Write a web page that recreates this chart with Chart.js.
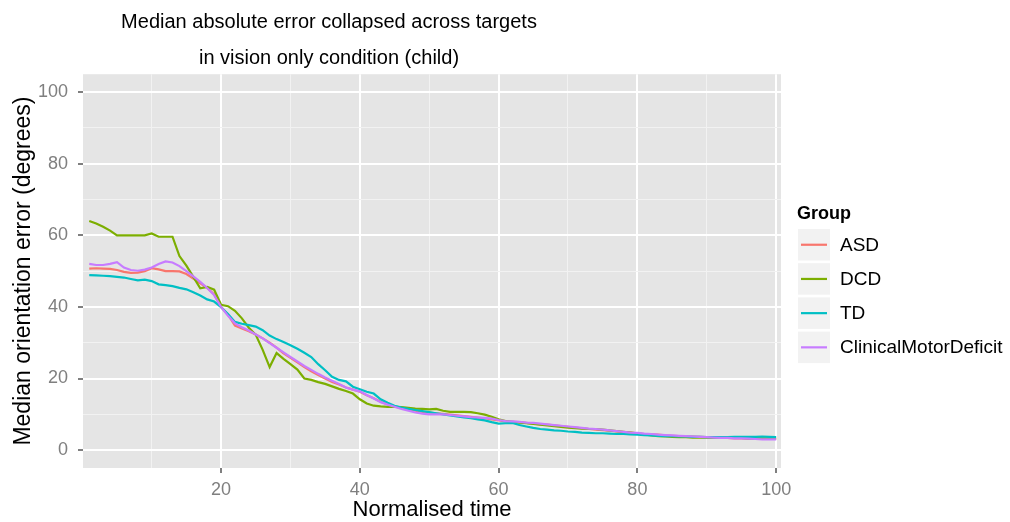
<!DOCTYPE html>
<html>
<head>
<meta charset="utf-8">
<script src="https://cdn.jsdelivr.net/npm/chart.js@4.4.1/dist/chart.umd.min.js"></script>
<style>
  html, body { margin: 0; padding: 0; background: #ffffff; }
  #wrap { width: 1010px; height: 522px; position: relative; }
</style>
</head>
<body>
<div id="wrap"><canvas id="errorChart"></canvas></div>
<script>
// Normalised time steps 1..100
const times = Array.from({ length: 100 }, (_, i) => i + 1);

const asd = [
  50.7, 50.8, 50.7, 50.6, 50.3, 49.8, 49.5, 49.6, 50.0, 50.8,
  50.5, 50.0, 50.0, 49.9, 49.2, 47.9, 46.6, 45.3, 43.5, 40.0,
  37.8, 34.8, 34.0, 33.2, 32.3, 31.2, 30.0, 28.6, 27.0, 25.8,
  24.5, 23.2, 22.0, 21.0, 20.0, 19.0, 18.3, 17.5, 16.9, 16.3,
  15.3, 14.5, 13.5, 12.8, 12.2, 11.8, 11.5, 11.0, 10.7, 10.5,
  10.3, 10.1, 9.9, 9.7, 9.5, 9.3, 9.1, 8.9, 8.6, 8.3,
  8.0, 7.9, 7.8, 7.6, 7.4, 7.2, 7.1, 6.9, 6.7, 6.5,
  6.3, 6.1, 5.9, 5.7, 5.6, 5.4, 5.2, 5.0, 4.9, 4.7,
  4.5, 4.4, 4.3, 4.1, 4.0, 3.9, 3.8, 3.8, 3.7, 3.6,
  3.5, 3.5, 3.4, 3.3, 3.3, 3.2, 3.2, 3.1, 3.1, 3.1
];
const dcd = [
  64.0, 63.3, 62.4, 61.3, 60.0, 60.0, 60.0, 60.0, 60.0, 60.5,
  59.6, 59.6, 59.6, 54.2, 51.5, 48.4, 45.2, 45.6, 44.8, 40.6,
  40.2, 38.9, 36.8, 34.2, 32.2, 28.0, 23.2, 27.1, 25.5, 24.0,
  22.5, 20.0, 19.6, 19.0, 18.5, 17.8, 17.1, 16.5, 15.8, 14.2,
  13.0, 12.4, 12.2, 12.1, 12.1, 12.0, 11.8, 11.6, 11.5, 11.4,
  11.5, 11.0, 10.7, 10.7, 10.7, 10.6, 10.3, 9.9, 9.3, 8.6,
  8.1, 7.9, 7.7, 7.5, 7.3, 7.1, 6.9, 6.7, 6.5, 6.3,
  6.1, 6.0, 5.9, 5.9, 5.7, 5.5, 5.3, 5.1, 4.9, 4.7,
  4.4, 4.1, 3.9, 3.8, 3.7, 3.6, 3.6, 3.5, 3.5, 3.5,
  3.4, 3.4, 3.4, 3.4, 3.4, 3.3, 3.3, 3.3, 3.3, 3.3
];
const td = [
  48.9, 48.8, 48.7, 48.6, 48.4, 48.2, 47.8, 47.4, 47.6, 47.2,
  46.3, 46.1, 45.8, 45.3, 44.9, 44.1, 43.2, 42.1, 41.5, 39.9,
  38.0, 35.8, 35.3, 34.9, 34.5, 33.5, 32.0, 31.0, 30.2, 29.3,
  28.3, 27.2, 26.0, 24.0, 22.3, 20.5, 19.6, 19.2, 17.7, 17.0,
  16.3, 15.8, 14.2, 13.2, 12.4, 11.9, 11.5, 11.2, 10.9, 10.6,
  10.3, 10.0, 9.7, 9.4, 9.1, 8.9, 8.6, 8.3, 7.8, 7.4,
  7.5, 7.6, 7.0, 6.6, 6.2, 5.9, 5.7, 5.5, 5.4, 5.2,
  5.1, 4.9, 4.8, 4.7, 4.7, 4.6, 4.5, 4.5, 4.4, 4.3,
  4.2, 4.1, 4.0, 3.9, 3.9, 3.8, 3.8, 3.7, 3.7, 3.6,
  3.6, 3.6, 3.6, 3.7, 3.7, 3.7, 3.7, 3.8, 3.7, 3.6
];
const clinicalMotorDeficit = [
  52.0, 51.7, 51.7, 52.0, 52.5, 51.0, 50.3, 50.1, 50.4, 51.0,
  52.0, 52.7, 52.4, 51.4, 50.0, 48.5, 47.0, 45.3, 43.3, 40.0,
  37.5, 35.4, 34.3, 33.4, 32.3, 31.2, 29.9, 28.6, 27.3, 26.0,
  24.8, 23.5, 22.4, 21.3, 20.3, 19.4, 18.5, 17.5, 16.9, 16.4,
  15.4, 14.4, 13.4, 12.7, 12.1, 11.5, 11.0, 10.5, 10.2, 10.0,
  10.0, 10.0, 9.8, 9.6, 9.4, 9.2, 9.1, 9.0, 8.8, 8.4,
  8.1, 8.0, 7.9, 7.7, 7.6, 7.4, 7.2, 7.0, 6.8, 6.6,
  6.4, 6.2, 6.0, 5.9, 5.7, 5.5, 5.3, 5.1, 4.9, 4.8,
  4.6, 4.5, 4.3, 4.2, 4.1, 4.0, 3.9, 3.8, 3.7, 3.6,
  3.5, 3.4, 3.4, 3.3, 3.3, 3.2, 3.1, 3.0, 3.0, 3.0
];

const groups = ['ASD', 'DCD', 'TD', 'ClinicalMotorDeficit'];
const groupColors = ['#F8766D', '#7CAE00', '#00BFC4', '#C77CFF'];

// ticks: every 10 drawn as grid, every 20 labelled (ggplot major/minor)
const xBreaks = [10, 20, 30, 40, 50, 60, 70, 80, 90, 100];
const xMajor = [20, 40, 60, 80, 100];
const yBreaks = [0, 10, 20, 30, 40, 50, 60, 70, 80, 90, 100];
const yMajor = [0, 20, 40, 60, 80, 100];

const chartTitle = ['Median absolute error collapsed across targets', 'in vision only condition (child)'];
const xTitle = 'Normalised time';
const yTitle = 'Median orientation error (degrees)';
const legendTitle = 'Group';

const FONT = '"Liberation Sans", Arial, Helvetica, sans-serif';

// grey panel behind the plot
const panelBg = {
    id: 'panelBg',
    beforeDraw(chart) {
        const { ctx, chartArea: a } = chart;
        ctx.save();
        ctx.fillStyle = '#E5E5E5';
        ctx.fillRect(a.left, a.top, a.right - a.left, a.bottom - a.top);
        ctx.restore();
    }
};

// the original title sits a bit left of the panel centre
const titleShift = {
    id: 'titleShift',
    afterLayout(chart) {
        const t = chart.titleBlock;
        if (!t) return;
        t.left = 0;
        t.right = 658;
        t.width = 658;
    }
};

// ggplot style legend with grey key boxes
const groupLegend = {
    id: 'groupLegend',
    afterDraw(chart) {
        const ctx = chart.ctx;
        const x0 = chart.chartArea.right + 17;
        ctx.save();
        ctx.textBaseline = 'middle';
        ctx.textAlign = 'left';
        ctx.fillStyle = '#000000';
        ctx.font = 'bold 18px ' + FONT;
        ctx.fillText(legendTitle, x0 - 1, 214);
        chart.data.datasets.forEach((ds, i) => {
            const top = 229 + i * 34.2;
            ctx.fillStyle = '#F2F2F2';
            ctx.fillRect(x0, top, 32, 31.5);
            ctx.strokeStyle = ds.borderColor;
            ctx.lineWidth = 2.2;
            ctx.beginPath();
            ctx.moveTo(x0 + 3, top + 15.75);
            ctx.lineTo(x0 + 29, top + 15.75);
            ctx.stroke();
            ctx.fillStyle = '#000000';
            ctx.font = '19px ' + FONT;
            ctx.fillText(ds.label, x0 + 42, top + 16.5);
        });
        ctx.restore();
    }
};

function isMajor(ctx, majors) {
    return ctx.tick && majors.includes(ctx.tick.value);
}

const series = [asd, dcd, td, clinicalMotorDeficit];

const ctx = document.getElementById('errorChart').getContext('2d');
const chart = new Chart(ctx, {
    type: 'line',
    data: {
        datasets: series.map((vals, i) => ({
            label: groups[i],
            data: times.map((t, j) => ({ x: t, y: vals[j] })),
            borderColor: groupColors[i],
            backgroundColor: groupColors[i],
            borderWidth: 2.2,
            pointRadius: 0,
            tension: 0,
            order: series.length - i // later groups drawn on top
        }))
    },
    options: {
        responsive: true,
        maintainAspectRatio: false,
        animation: false,
        layout: {
            padding: { left: 0, right: 229, top: 0, bottom: 0 }
        },
        plugins: {
            legend: { display: false },
            tooltip: { enabled: false },
            title: {
                display: true,
                text: chartTitle,
                fullSize: false,
                color: '#000000',
                font: { family: FONT, size: 20, weight: 'normal', lineHeight: 1.83 },
                padding: { top: 4, bottom: -3 }
            }
        },
        scales: {
            x: {
                type: 'linear',
                min: 0.1,
                max: 100.7,
                afterBuildTicks: (scale) => {
                    scale.ticks = xBreaks.map(v => ({ value: v }));
                },
                afterFit: (scale) => { scale.height = 54; },
                border: { display: false },
                grid: {
                    color: (c) => isMajor(c, xMajor) ? '#FFFFFF' : '#F2F2F2',
                    lineWidth: (c) => isMajor(c, xMajor) ? 2 : 1,
                    tickColor: (c) => isMajor(c, xMajor) ? '#7F7F7F' : 'rgba(0,0,0,0)',
                    tickLength: 5
                },
                ticks: {
                    autoSkip: false,
                    maxRotation: 0,
                    padding: 6,
                    color: '#7F7F7F',
                    font: { family: FONT, size: 18 },
                    callback: (v) => xMajor.includes(v) ? String(v) : ''
                },
                title: {
                    display: true,
                    text: xTitle,
                    color: '#000000',
                    font: { family: FONT, size: 22, lineHeight: 1 },
                    padding: { top: 0, bottom: 1 }
                }
            },
            y: {
                min: -5,
                max: 105,
                afterBuildTicks: (scale) => {
                    scale.ticks = yBreaks.map(v => ({ value: v }));
                },
                afterFit: (scale) => { scale.width = 83; },
                border: { display: false },
                grid: {
                    color: (c) => isMajor(c, yMajor) ? '#FFFFFF' : '#F2F2F2',
                    lineWidth: (c) => isMajor(c, yMajor) ? 2 : 1,
                    tickColor: (c) => isMajor(c, yMajor) ? '#7F7F7F' : 'rgba(0,0,0,0)',
                    tickLength: 5
                },
                ticks: {
                    autoSkip: false,
                    padding: 10,
                    color: '#7F7F7F',
                    font: { family: FONT, size: 18 },
                    callback: (v) => yMajor.includes(v) ? String(v) : ''
                },
                title: {
                    display: true,
                    text: yTitle,
                    color: '#000000',
                    font: { family: FONT, size: 23, lineHeight: 1.2 },
                    padding: { top: 10, bottom: 0 }
                }
            }
        }
    },
    plugins: [panelBg, titleShift, groupLegend]
});
</script>
</body>
</html>
